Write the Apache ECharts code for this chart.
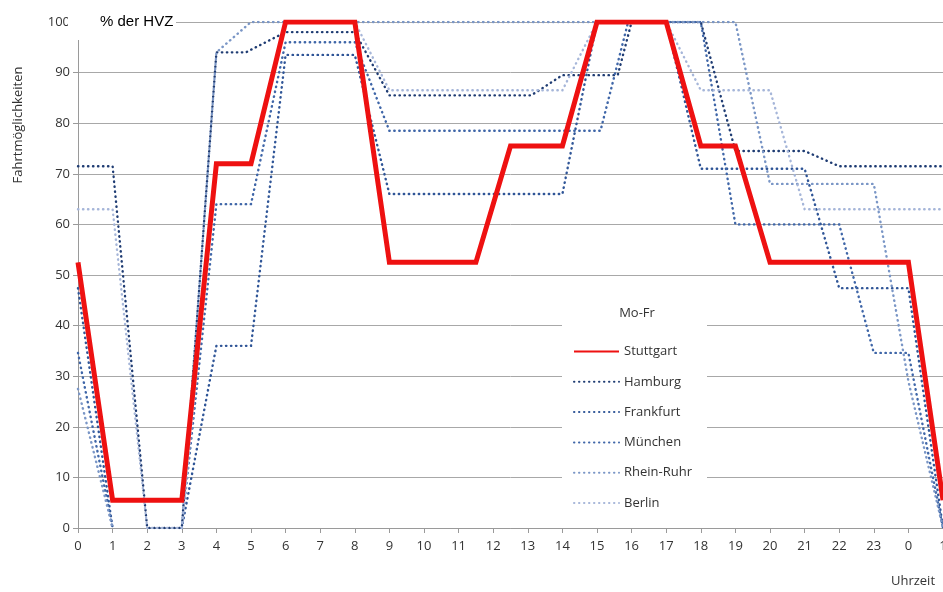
<!DOCTYPE html>
<html>
<head>
    <meta charset="utf-8">
    <title>Fahrtmöglichkeiten Mo-Fr</title>
    <script src="https://cdn.jsdelivr.net/npm/echarts@6/dist/echarts.min.js"></script>
    <style>
        html, body {
            margin: 0;
            padding: 0;
            background: #fff;
        }

        #main {
            width: 943px;
            height: 592px;
        }
    </style>
</head>
<body>
<div id="main"></div>
<script>
    // Werte je Stadt: [Uhrzeit, % der HVZ], 24 = 0 Uhr, 25 = 1 Uhr am Folgetag
    var stuttgart = [[0, 52.5], [1, 5.5], [3, 5.5], [4, 72], [5, 72], [6, 100], [8, 100], [9, 52.5], [11.5, 52.5],
        [12.5, 75.5], [14, 75.5], [15, 100], [17, 100], [18, 75.5], [19, 75.5], [20, 52.5], [24, 52.5], [25, 5.5]];
    var hamburg = [[0, 71.5], [1, 71.5], [2, 0], [3, 0], [4, 94], [4.85, 94], [6, 98], [8, 98], [9, 85.5], [13.1, 85.5],
        [14, 89.5], [15.6, 89.5], [16, 100], [18, 100], [19, 74.5], [21, 74.5], [22, 71.5], [25, 71.5]];
    var frankfurt = [[0, 47.4], [1, 0], [2, null], [3, 0], [4, 36], [5, 36], [6, 93.5], [8, 93.5], [9, 66], [14, 66],
        [15, 100], [17, 100], [18, 71], [21, 71], [22, 47.4], [24, 47.4], [25, 0]];
    var muenchen = [[0, 34.6], [1, 0], [2, null], [3, 0], [4, 64], [5, 64], [6, 96], [8, 96], [9, 78.5], [15.1, 78.5],
        [15.9, 100], [18, 100], [19, 60], [22, 60], [23, 34.6], [24, 34.6], [25, 0]];
    var rheinRuhr = [[0, 27.5], [1, 0], [2, null], [3, 0], [4, 94], [5, 100], [19, 100], [20, 68], [23, 68], [24, 29],
        [25, 0]];
    var berlin = [[0, 63], [1, 63], [2, 0], [3, 0], [4, 72], [5, 72], [6, 100], [8, 100], [9, 86.5], [14, 86.5],
        [15, 100], [17, 100], [18, 86.5], [20, 86.5], [21, 63], [25, 63]];

    var staedte = ['Stuttgart', 'Hamburg', 'Frankfurt', 'München', 'Rhein-Ruhr', 'Berlin'];
    var farben = ['#ee1111', '#1f3c73', '#2f5597', '#3f66a8', '#7a96c6', '#a6b6d9'];
    var werte = [stuttgart, hamburg, frankfurt, muenchen, rheinRuhr, berlin];

    var schrift = '"Open Sans", "DejaVu Sans", sans-serif';

    var series = [];
    for (var i = 0; i < staedte.length; i++) {
        series.push({
            name: staedte[i],
            type: 'line',
            data: werte[i],
            symbol: 'none',
            connectNulls: false,
            z: i === 0 ? 5 : 2,
            lineStyle: {
                color: farben[i],
                width: i === 0 ? 5 : 2.4,
                type: i === 0 ? 'solid' : [0.4, 4.6],
                cap: i === 0 ? 'butt' : 'round',
                join: 'miter'
            },
            itemStyle: {color: farben[i]}
        });
    }
    // Stuttgart zuletzt zeichnen, damit die rote Linie oben liegt
    series.push(series.shift());

    var myChart = echarts.init(document.getElementById('main'));
    var option = {
        animation: false,
        backgroundColor: '#fff',
        grid: {
            left: 78,
            right: 0,
            top: 22,
            bottom: 64,
            outerBoundsMode: 'none'
        },
        legend: {
            data: staedte,
            orient: 'vertical',
            left: 568,
            top: 340,
            itemWidth: 45,
            itemHeight: 14,
            itemGap: 17.3,
            z: 10,
            itemStyle: {opacity: 0},
            textStyle: {
                fontFamily: schrift,
                fontSize: 13,
                color: '#333'
            }
        },
        xAxis: {
            type: 'value',
            min: 0,
            max: 25,
            interval: 1,
            axisLine: {lineStyle: {color: '#9a9a9a'}},
            axisTick: {show: true, length: 5, lineStyle: {color: '#9a9a9a'}},
            splitLine: {show: false},
            axisLabel: {
                margin: 12,
                fontFamily: schrift,
                fontSize: 13,
                color: '#333',
                formatter: function (v) {
                    return String(v % 24);
                }
            }
        },
        yAxis: {
            type: 'value',
            min: 0,
            max: 100,
            interval: 10,
            axisLine: {show: true, lineStyle: {color: '#9a9a9a'}},
            axisTick: {show: true, length: 5, lineStyle: {color: '#9a9a9a'}},
            splitLine: {lineStyle: {color: '#a8a8a8', width: 1}},
            axisLabel: {
                margin: 8,
                fontFamily: schrift,
                fontSize: 13,
                color: '#333'
            }
        },
        graphic: [
            // weißer Kasten hinter der Legende
            {
                type: 'rect',
                z: 8,
                shape: {x: 562, y: 292, width: 145, height: 229},
                style: {fill: '#fff'}
            },
            {
                type: 'text',
                z: 9,
                x: 637,
                y: 313,
                style: {
                    text: 'Mo-Fr',
                    fontFamily: schrift,
                    fontSize: 13,
                    fill: '#333',
                    align: 'center',
                    verticalAlign: 'middle'
                }
            },
            // Einheit oben links
            {
                type: 'rect',
                z: 8,
                shape: {x: 68, y: 4, width: 108, height: 36},
                style: {fill: '#fff'}
            },
            {
                type: 'text',
                z: 9,
                x: 100,
                y: 22,
                style: {
                    text: '% der HVZ',
                    fontFamily: '"Liberation Sans", Arial, sans-serif',
                    fontSize: 15,
                    fill: '#000',
                    verticalAlign: 'middle'
                }
            },
            {
                type: 'text',
                z: 9,
                x: 18,
                y: 125,
                rotation: Math.PI / 2,
                style: {
                    text: 'Fahrtmöglichkeiten',
                    fontFamily: schrift,
                    fontSize: 13,
                    fill: '#333',
                    align: 'center',
                    verticalAlign: 'middle'
                }
            },
            {
                type: 'text',
                z: 9,
                x: 913,
                y: 581,
                style: {
                    text: 'Uhrzeit',
                    fontFamily: schrift,
                    fontSize: 13,
                    fill: '#333',
                    align: 'center',
                    verticalAlign: 'middle'
                }
            }
        ],
        series: series
    };
    myChart.setOption(option);
</script>
</body>
</html>
